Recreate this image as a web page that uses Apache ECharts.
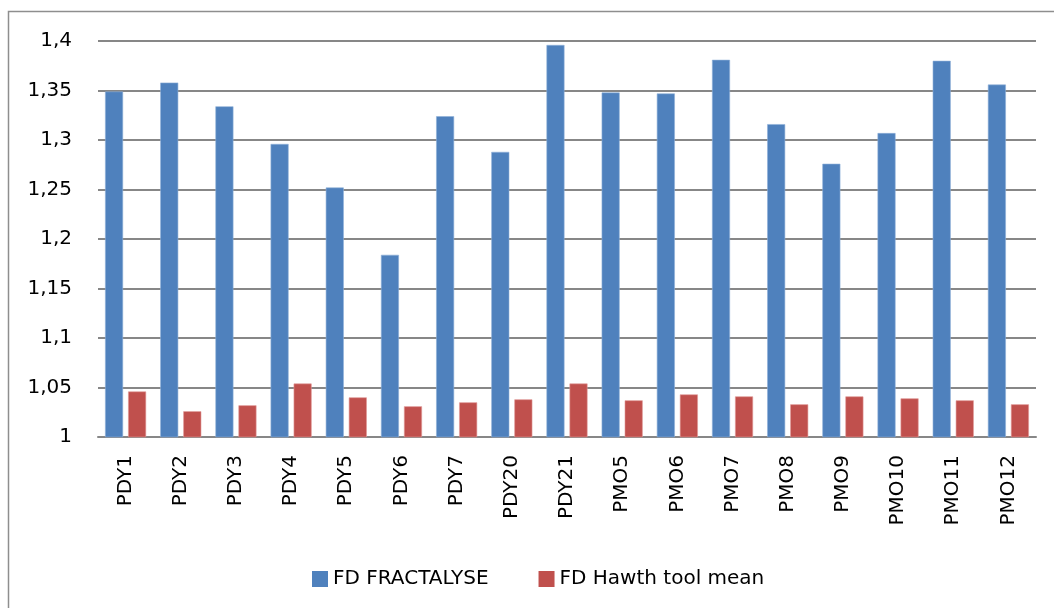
<!DOCTYPE html>
<html>
<head>
<meta charset="utf-8">
<title>FD comparison</title>
<script src="https://cdn.jsdelivr.net/npm/echarts@6/dist/echarts.min.js"></script>
<style>
  html, body { margin: 0; padding: 0; background: #fff; }
  #chart { width: 1054px; height: 608px; }
</style>
</head>
<body>
<div id="chart"></div>
<script>
// categories + values
var sites = ['PDY1', 'PDY2', 'PDY3', 'PDY4', 'PDY5', 'PDY6', 'PDY7', 'PDY20', 'PDY21',
  'PMO5', 'PMO6', 'PMO7', 'PMO8', 'PMO9', 'PMO10', 'PMO11', 'PMO12']
var fdFractalyse = [1.349, 1.358, 1.334, 1.296, 1.252, 1.184, 1.324, 1.288, 1.396,
  1.348, 1.347, 1.381, 1.316, 1.276, 1.307, 1.380, 1.356]
var fdHawthMean = [1.046, 1.026, 1.032, 1.054, 1.040, 1.031, 1.035, 1.038, 1.054,
  1.037, 1.043, 1.041, 1.033, 1.041, 1.039, 1.037, 1.033]
var seriesNames = ['FD FRACTALYSE', 'FD Hawth tool mean']

var font = 'DejaVu Sans'
var chart = echarts.init(document.getElementById('chart'))

chart.setOption({
  animation: false,
  textStyle: { fontFamily: font, color: '#000' },
  // outer chart frame (runs off the right and bottom edge in the original)
  graphic: [{
    type: 'rect',
    shape: { x: 8.5, y: 11.5, width: 1100, height: 700 },
    style: { fill: 'none', stroke: '#8e8e8e', lineWidth: 1.5 },
    silent: true
  }],
  grid: {
    left: 98,
    right: 18,
    top: 41,
    bottom: 171
  },
  legend: {
    data: seriesNames,
    left: 307,
    top: 564,
    itemWidth: 16,
    itemHeight: 16,
    itemGap: 50,
    icon: 'rect',
    itemStyle: { borderWidth: 0 },
    textStyle: { fontFamily: font, fontSize: 20, color: '#000' }
  },
  xAxis: {
    type: 'category',
    data: sites,
    axisTick: { show: false },
    axisLine: { lineStyle: { color: '#878787', width: 2 } },
    axisLabel: {
      rotate: 90,
      margin: 18,
      fontSize: 20,
      fontFamily: font,
      color: '#000'
    }
  },
  yAxis: {
    type: 'value',
    min: 1,
    max: 1.4,
    interval: 0.05,
    axisLine: { show: false },
    axisTick: { show: false },
    splitLine: { lineStyle: { color: '#878787', width: 2 } },
    axisLabel: {
      margin: 26,
      fontSize: 20,
      fontFamily: font,
      color: '#000',
      formatter: function (v) {
        return String(Math.round(v * 100) / 100).replace('.', ',')
      }
    }
  },
  series: [
    {
      name: seriesNames[0],
      type: 'bar',
      data: fdFractalyse,
      barWidth: 18,
      barGap: '28%',
      itemStyle: { color: '#4f81bd', borderColor: '#8fb0d9', borderWidth: 0.6 }
    },
    {
      name: seriesNames[1],
      type: 'bar',
      data: fdHawthMean,
      barWidth: 18,
      itemStyle: { color: '#c0504d', borderColor: '#e09a98', borderWidth: 0.6 }
    }
  ]
})
</script>
</body>
</html>
